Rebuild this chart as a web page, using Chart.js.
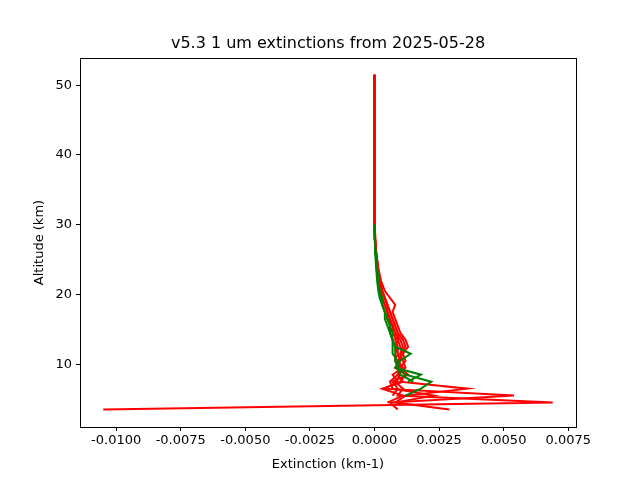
<!DOCTYPE html><html><head><script src="https://cdn.jsdelivr.net/npm/chart.js@4"></script>
<style>body{margin:0;background:#fff}#w{width:640px;height:480px}</style></head><body><div id="w"><canvas id="c"></canvas></div>
<script>
const titleText = "v5.3 1 um extinctions from 2025-05-28";
const alts = [3.5,4.5,5.5,6.5,7.5,8.5,9.5,10.5,11.5,12.5,13.5,14.5,15.5,16.5,17.5,18.5,19.5,20.5,22,24,26,28,30,35,40,45,51.5];
const red1 = [-0.0105,0.0069,0.0009,0.0011,0.0008,0.0010,0.0009,0.0010,0.0009,0.0009,0.0008,0.0008,0.0007,0.0006,0.0005,0.0004,0.0003,0.00025,0.0002,0.00012,0.00006,0.00003,0.00001,0,0,0,0];
const red2 = [0.0009,0.0006,0.0054,0.0004,0.0009,0.0007,0.0011,0.0009,0.0011,0.0010,0.0009,0.0009,0.0008,0.0007,0.0006,0.0005,0.0004,0.0003,0.0002,0.00014,0.00007,0.00003,0.00001,0,0,0,0];
const red3 = [0.0029,0.0008,0.0012,0.0036,0.0010,0.0012,0.0008,0.0010,0.0010,0.0011,0.0010,0.0008,0.0007,0.0006,0.0005,0.0005,0.0004,0.0003,0.0002,0.0001,0.00005,0.00002,0,0,0,0,0];
const red4 = [null,0.0005,0.0011,0.0003,0.0011,0.0009,0.0010,0.0008,0.0009,0.0008,0.0009,0.0007,0.0007,0.0005,0.0005,0.0004,0.0003,0.0002,0.00015,0.0001,0.00005,0.00002,0,0,0,0,0];
const red5 = [null,0.0008,0.0023,0.0007,0.0006,0.0009,0.0012,0.0011,0.0010,0.0012,0.0011,0.0009,0.0008,0.0007,0.0006,0.0005,0.0004,0.0003,0.0002,0.00012,0.00006,0.00002,0,0,0,0,0];
const red6 = [null,null,0.0007,0.0009,0.0007,0.0013,0.0010,0.0012,0.0011,0.0013,0.0012,0.0010,0.0009,0.0008,0.0007,0.0008,0.0006,0.0004,0.00025,0.00013,0.00006,0.00002,0,0,0,0,0];
const green1 = [null,null,0.0012,0.0018,0.0022,0.0012,0.0009,0.0008,0.0008,0.0008,0.0007,0.0006,0.0006,0.0005,0.0004,0.0003,0.00025,0.0002,0.00015,0.0001,0.00005,0.00002,0,null,null,null,null];
const green2 = [null,null,null,null,0.0015,0.0010,0.0009,0.0009,0.0007,0.0007,0.0007,0.0006,0.0005,0.0004,0.0004,0.0003,0.0002,0.00015,0.0001,0.00006,0.00003,0.00001,0,null,null,null,null];
const green3 = [null,null,null,null,0.0013,0.0018,0.0008,0.0010,0.0014,0.0008,0.0007,0.0007,0.0006,0.0005,0.0004,0.0003,0.0003,0.0002,0.00012,0.00008,0.00004,0.00001,0,null,null,null,null];
const xTicks = [-0.0100,-0.0075,-0.0050,-0.0025,0.0000,0.0025,0.0050,0.0075];
const yTicks = [10,20,30,40,50];
function ds(arr,color){return {data:alts.map((a,i)=>arr[i]===null?null:{x:arr[i],y:a}).filter(p=>p),borderColor:color,backgroundColor:color,borderWidth:2,showLine:true,pointRadius:0,tension:0};}
const datasets=[ds(green1,'green'),ds(green2,'green'),ds(green3,'green'),ds(red1,'red'),ds(red2,'red'),ds(red3,'red'),ds(red4,'red'),ds(red5,'red'),ds(red6,'red')];
const titlePlugin={id:'t',afterDraw(ch){const c=ch.ctx,a=ch.chartArea;c.save();c.strokeStyle='#000';c.lineWidth=1;c.strokeRect(Math.round(a.left)+0.5,Math.round(a.top)+0.5,Math.round(a.right-a.left),Math.round(a.bottom-a.top));c.fillStyle='#000';c.font='16px "DejaVu Sans"';c.textAlign='center';c.textBaseline='bottom';c.fillText(titleText,(a.left+a.right)/2,a.top-6);c.restore();}};
const tickFont={family:'DejaVu Sans',size:13};
new Chart(document.getElementById('c'),{type:'scatter',data:{datasets},plugins:[titlePlugin],options:{responsive:true,maintainAspectRatio:false,animation:false,
layout:{padding:{top:58,right:64,left:28,bottom:4}},
plugins:{legend:{display:false},tooltip:{enabled:false}},
scales:{x:{type:'linear',min:-0.0114,max:0.0078,afterBuildTicks:s=>{s.ticks=xTicks.map(v=>({value:v}));},afterFit:s=>{s.height=49;},
 ticks:{color:'#000',font:tickFont,maxRotation:0,autoSkip:false,padding:2,callback:v=>v.toFixed(4)},
 grid:{drawOnChartArea:false,drawTicks:true,tickLength:4,tickColor:'#000'},border:{color:'#000',width:1},
 title:{display:true,text:'Extinction (km-1)',color:'#000',font:tickFont,padding:{top:2}}},
 y:{type:'linear',min:1.0,max:53.9,afterBuildTicks:s=>{s.ticks=yTicks.map(v=>({value:v}));},afterFit:s=>{s.width=52;},
 ticks:{color:'#000',font:tickFont,padding:4},
 grid:{drawOnChartArea:false,drawTicks:true,tickLength:4,tickColor:'#000'},border:{color:'#000',width:1},
 title:{display:true,text:'Altitude (km)',color:'#000',font:tickFont,padding:{bottom:4}}}}}});
</script></body></html>
